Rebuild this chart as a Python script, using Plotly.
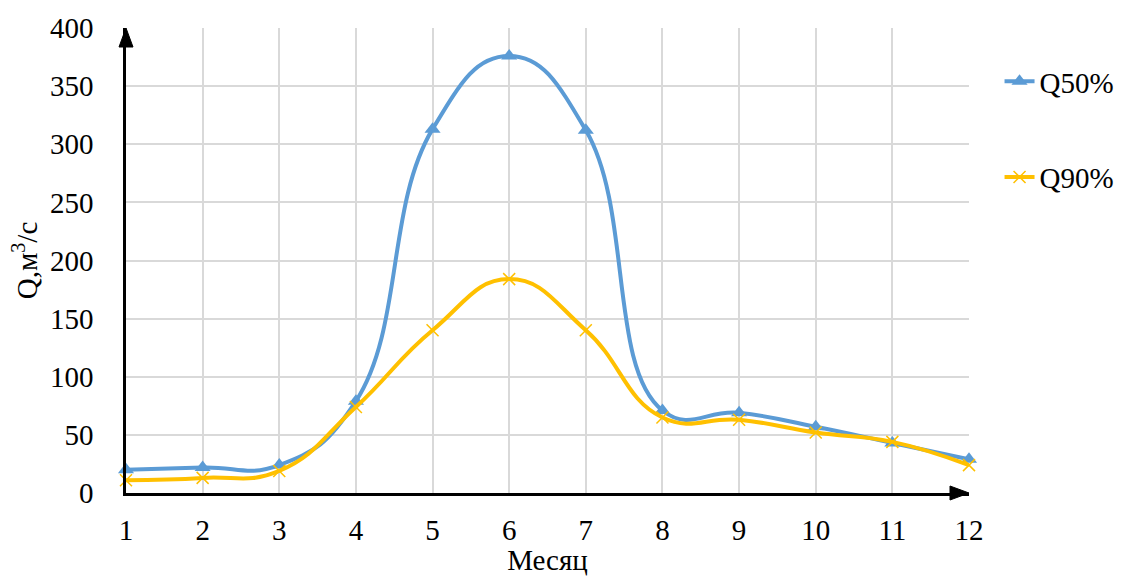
import plotly.graph_objects as go

months = [1, 2, 3, 4, 5, 6, 7, 8, 9, 10, 11, 12]
q50 = [20, 22, 24, 79, 313, 376, 312, 71, 69, 57, 43, 29]
q90 = [11, 13, 19, 74, 140, 184, 140, 65, 63, 52, 44, 24]
tick_vals_y = [0, 50, 100, 150, 200, 250, 300, 350, 400]

font_family = "Liberation Serif, Times New Roman, serif"

fig = go.Figure()
fig.add_trace(go.Scatter(
    x=months, y=q50, name="Q50%", mode="lines+markers",
    line=dict(color="#5B9BD5", width=4, shape="spline", smoothing=1.3),
    marker=dict(symbol="triangle-up", size=14, color="#5B9BD5"),
    legendgroup="a", cliponaxis=False,
))
fig.add_trace(go.Scatter(
    x=months, y=q90, name="Q90%", mode="lines+markers",
    line=dict(color="#FFC000", width=4, shape="spline", smoothing=1.3),
    marker=dict(symbol="x-thin", size=12, color="#FFC000",
                line=dict(color="#FFC000", width=1.5)),
    legendgroup="b", cliponaxis=False,
))

# axis arrowheads (pixel-sized shapes anchored to the plot-area corners, not clipped)
fig.add_shape(type="path", xref="paper", yref="paper", xsizemode="pixel", ysizemode="pixel",
              xanchor=1, yanchor=0, path="M 0 0 L -19 7 L -19 -7 Z",
              fillcolor="black", line=dict(color="black", width=1), layer="above")
fig.add_shape(type="path", xref="paper", yref="paper", xsizemode="pixel", ysizemode="pixel",
              xanchor=0, yanchor=1, path="M 0 0 L -7 -19 L 7 -19 Z",
              fillcolor="black", line=dict(color="black", width=1), layer="above")

fig.update_layout(
    width=1130, height=576,
    margin=dict(l=126, r=160, t=28, b=83),
    paper_bgcolor="white", plot_bgcolor="white",
    font=dict(family=font_family, size=29, color="black"),
    showlegend=True,
    legend=dict(x=1.035, y=0.94, xanchor="left", yanchor="top",
                tracegroupgap=55, font=dict(size=29), itemwidth=30,
                bgcolor="rgba(0,0,0,0)"),
    xaxis=dict(range=[1, 12], tickvals=months, showgrid=True, gridcolor="#D9D9D9",
               gridwidth=1.5, showline=True, linecolor="black", linewidth=2.5,
               zeroline=False, ticks="outside", ticklen=9, tickcolor="rgba(0,0,0,0)",
               automargin=False,
               title=dict(text="Месяц", standoff=2, font=dict(size=29))),
    yaxis=dict(range=[0, 400], tickvals=tick_vals_y, showgrid=True, gridcolor="#D9D9D9",
               gridwidth=1.5, showline=True, linecolor="black", linewidth=2.5,
               zeroline=False, ticks="outside", ticklen=24, tickcolor="rgba(0,0,0,0)",
               automargin=False,
               title=dict(text="Q,м<sup>3</sup>/с", standoff=4, font=dict(size=29))),
)

fig.write_html("out.html")
